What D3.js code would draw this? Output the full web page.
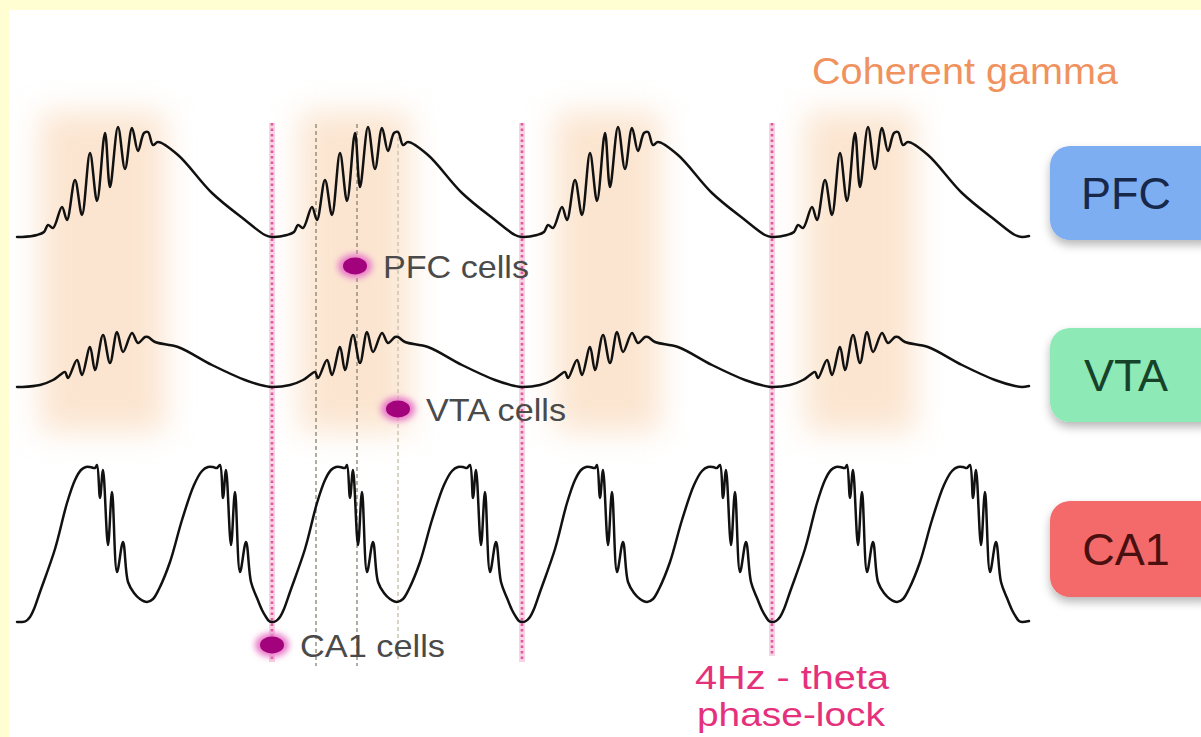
<!DOCTYPE html>
<html>
<head>
<meta charset="utf-8">
<script src="https://cdn.jsdelivr.net/npm/d3@7"></script>
<style>
  html, body { margin: 0; padding: 0; background: #fffdd2; }
  svg { display: block; }
</style>
</head>
<body>
<svg id="chart" width="1201" height="737"></svg>
<script>
// ---------------- DATA ----------------
// time axis in ms, one theta cycle = 250 ms (4 Hz)
const thetaCycleStarts = [0, 250, 500, 750];
const traceStartT = -5;
const traceEndT = 1007;

// PFC: one theta cycle (time offset ms, height above trough)
const pfcCycleT = [0, 15, 22, 26, 31, 40, 45, 53, 60, 68, 75, 83, 88, 96, 103, 110, 116, 122, 126, 131, 136, 156, 190, 223, 243];
const pfcCycleH = [0, 2, 5, 12, 9, 30, 17, 57, 22, 84, 36, 104, 50, 110, 68, 109, 86, 104, 105, 92, 95, 82, 44, 17, 2];

// VTA: one theta cycle
const vtaCycleT = [0, 18, 31, 38, 43, 46, 55, 60, 68, 73, 81, 88, 95, 101, 110, 116, 123, 126, 133, 156, 190, 223, 243];
const vtaCycleH = [0, 2, 7, 12, 15, 9, 27, 12, 40, 17, 52, 24, 55, 35, 54, 44, 50, 50, 45, 40, 22, 7, 1];

// CA1: one 4 Hz cycle containing two faster sub-cycles
const ca1CycleT = [0, 4, 8, 12, 18, 33, 45, 53, 59, 64, 68, 73, 75, 78, 81, 86, 90, 95, 101, 106, 112, 118, 125, 131, 137, 148, 160, 172, 180, 186, 191, 195, 198, 201, 204, 209, 213, 218, 224, 229, 235, 240, 244, 247];
const ca1CycleH = [0, 1, 5, 13, 30, 73, 119, 142, 152, 155, 155, 154, 157, 124, 152, 77, 130, 50, 80, 40, 29, 23, 20, 23, 33, 60, 102, 137, 151, 155, 155, 154, 157, 124, 152, 77, 130, 50, 80, 40, 24, 12, 5, 1];

// regions
const regionNames = ["PFC", "VTA", "CA1"];
const regionColors = ["#7eaef2", "#8de9b5", "#f46a6a"];
const regionTextColors = ["#17284a", "#17422a", "#4a0f0f"];

// coherent gamma windows (ms)
const gammaWindowStart = [18, 278, 533, 783];
const gammaWindowEnd = [143, 388, 638, 893];

// phase-lock markers (ms)
const phaseLockT = [250, 500, 750];
const spikeDashT = [294, 335];
const spikeDashLightT = [376];

// cell labels
const cellLabels = ["PFC cells", "VTA cells", "CA1 cells"];
const cellSpikeT = [333, 376, 250];

// ---------------- DRAWING ----------------
const svg = d3.select("#chart");
const W = 1201, H = 737;

const x = d3.scaleLinear().domain([0, 1000]).range([22, 1022]);
const yPFC = d3.scaleLinear().domain([0, 120]).range([237, 117]);
const yVTA = d3.scaleLinear().domain([0, 120]).range([387, 267]);
const yCA1 = d3.scaleLinear().domain([0, 160]).range([622, 462]);
const yBand = d3.scaleLinear().domain([0, 1]).range([112, 432]);  // vertical extent of gamma windows

const defs = svg.append("defs");
defs.append("filter").attr("id", "blurBig").attr("x", "-50%").attr("y", "-50%").attr("width", "200%").attr("height", "200%")
  .append("feGaussianBlur").attr("stdDeviation", 15);
defs.append("filter").attr("id", "blurSmall").attr("x", "-50%").attr("y", "-50%").attr("width", "200%").attr("height", "200%")
  .append("feGaussianBlur").attr("stdDeviation", 3);
const sh = defs.append("filter").attr("id", "shadow").attr("x", "-20%").attr("y", "-20%").attr("width", "150%").attr("height", "160%");
sh.append("feDropShadow").attr("dx", 0).attr("dy", 5).attr("stdDeviation", 5).attr("flood-color", "#000").attr("flood-opacity", 0.28);

// background
svg.append("rect").attr("width", W).attr("height", H).attr("fill", "#fffdd2");
svg.append("rect").attr("x", 9).attr("y", 10).attr("width", W - 9).attr("height", H - 10).attr("fill", "#ffffff");

// gamma windows
svg.append("g").selectAll("rect").data(gammaWindowStart).join("rect")
  .attr("x", (d) => x(d))
  .attr("width", (d, i) => x(gammaWindowEnd[i]) - x(d))
  .attr("y", yBand(0))
  .attr("height", yBand(1) - yBand(0))
  .attr("fill", "#f8d0aa")
  .attr("opacity", 0.55)
  .attr("filter", "url(#blurBig)");

// coherent gamma label
svg.append("text").attr("x", 812).attr("y", 84)
  .attr("font-family", "Liberation Sans, Arial, sans-serif").attr("font-size", 37)
  .attr("textLength", 306).attr("lengthAdjust", "spacingAndGlyphs")
  .attr("fill", "#f0925e").text("Coherent gamma");

// phase lock lines
const pl = svg.append("g");
pl.selectAll("line.halo").data(phaseLockT).join("line").attr("class", "halo")
  .attr("x1", (d) => x(d)).attr("x2", (d) => x(d))
  .attr("y1", 123).attr("y2", (d, i) => i === 2 ? 656 : 662)
  .attr("stroke", "#f9d2e4").attr("stroke-width", 6);
pl.selectAll("line.dot").data(phaseLockT).join("line").attr("class", "dot")
  .attr("x1", (d) => x(d)).attr("x2", (d) => x(d))
  .attr("y1", 123).attr("y2", (d, i) => i === 2 ? 656 : 662)
  .attr("stroke", "#df5a9d").attr("stroke-width", 2.6).attr("stroke-dasharray", "2.5,3");

// spike timing dashed lines
svg.append("g").selectAll("line").data(spikeDashT).join("line")
  .attr("x1", (d) => x(d)).attr("x2", (d) => x(d))
  .attr("y1", 124).attr("y2", 666)
  .attr("stroke", "#85836f").attr("stroke-width", 1.3).attr("stroke-dasharray", "4,3");
svg.append("g").selectAll("line").data(spikeDashLightT).join("line")
  .attr("x1", (d) => x(d)).attr("x2", (d) => x(d))
  .attr("y1", 130).attr("y2", 662)
  .attr("stroke", "#cfc9b4").attr("stroke-width", 1.6).attr("stroke-dasharray", "4,3");

// build traces by repeating the cycle at each theta trough
function buildTrace(T, Hh) {
  const pts = [{ t: traceStartT, h: Hh[0] }];
  thetaCycleStarts.forEach((s) => {
    T.forEach((t, i) => pts.push({ t: s + t, h: Hh[i] }));
  });
  pts.push({ t: 1000, h: Hh[0] });
  pts.push({ t: traceEndT, h: Hh[0] + 1 });
  return pts;
}

const traces = [
  { pts: buildTrace(pfcCycleT, pfcCycleH), y: yPFC },
  { pts: buildTrace(vtaCycleT, vtaCycleH), y: yVTA },
  { pts: buildTrace(ca1CycleT, ca1CycleH), y: yCA1 }
];

traces.forEach((tr) => {
  const line = d3.line().x((d) => x(d.t)).y((d) => tr.y(d.h)).curve(d3.curveCatmullRom.alpha(0.5));
  svg.append("path").datum(tr.pts).attr("d", line)
    .attr("fill", "none").attr("stroke", "#111").attr("stroke-width", 2.5)
    .attr("stroke-linejoin", "round").attr("stroke-linecap", "round");
});

// cell spike markers
const cellY = [266, 409, 645];
const cells = svg.append("g");
cells.selectAll("ellipse.halo").data(cellSpikeT).join("ellipse").attr("class", "halo")
  .attr("cx", (d) => x(d)).attr("cy", (d, i) => cellY[i])
  .attr("rx", 17).attr("ry", 12).attr("fill", "#e878c8").attr("filter", "url(#blurSmall)");
cells.selectAll("ellipse.core").data(cellSpikeT).join("ellipse").attr("class", "core")
  .attr("cx", (d) => x(d)).attr("cy", (d, i) => cellY[i])
  .attr("rx", 12).attr("ry", 8.5).attr("fill", "#a2037c");
cells.selectAll("text").data(cellLabels).join("text")
  .attr("x", (d, i) => x(cellSpikeT[i]) + 28)
  .attr("y", (d, i) => cellY[i] + 12)
  .attr("font-family", "Liberation Sans, Arial, sans-serif").attr("font-size", 32)
  .attr("textLength", (d, i) => [146, 140, 145][i]).attr("lengthAdjust", "spacingAndGlyphs")
  .attr("fill", "#4a4a4a").text((d) => d);

// theta label
const th = svg.append("text").attr("font-family", "Liberation Sans, Arial, sans-serif").attr("font-size", 33)
  .attr("fill", "#e5307c").attr("text-anchor", "middle");
th.append("tspan").attr("x", 792).attr("y", 689).attr("textLength", 194).attr("lengthAdjust", "spacingAndGlyphs").text("4Hz - theta");
th.append("tspan").attr("x", 791).attr("y", 726).attr("textLength", 188).attr("lengthAdjust", "spacingAndGlyphs").text("phase-lock");

// region boxes
const boxTop = [146, 328, 501];
const boxH = [94, 94, 96];
const boxes = svg.append("g");
boxes.selectAll("rect").data(regionNames).join("rect")
  .attr("x", 1050).attr("y", (d, i) => boxTop[i])
  .attr("width", 175).attr("height", (d, i) => boxH[i])
  .attr("rx", 20).attr("fill", (d, i) => regionColors[i])
  .attr("filter", "url(#shadow)");
boxes.selectAll("text").data(regionNames).join("text")
  .attr("x", 1126).attr("y", (d, i) => boxTop[i] + boxH[i] / 2 + 16)
  .attr("text-anchor", "middle")
  .attr("font-family", "Liberation Sans, Arial, sans-serif").attr("font-size", 45)
  .attr("fill", (d, i) => regionTextColors[i]).text((d) => d);
</script>
</body>
</html>
